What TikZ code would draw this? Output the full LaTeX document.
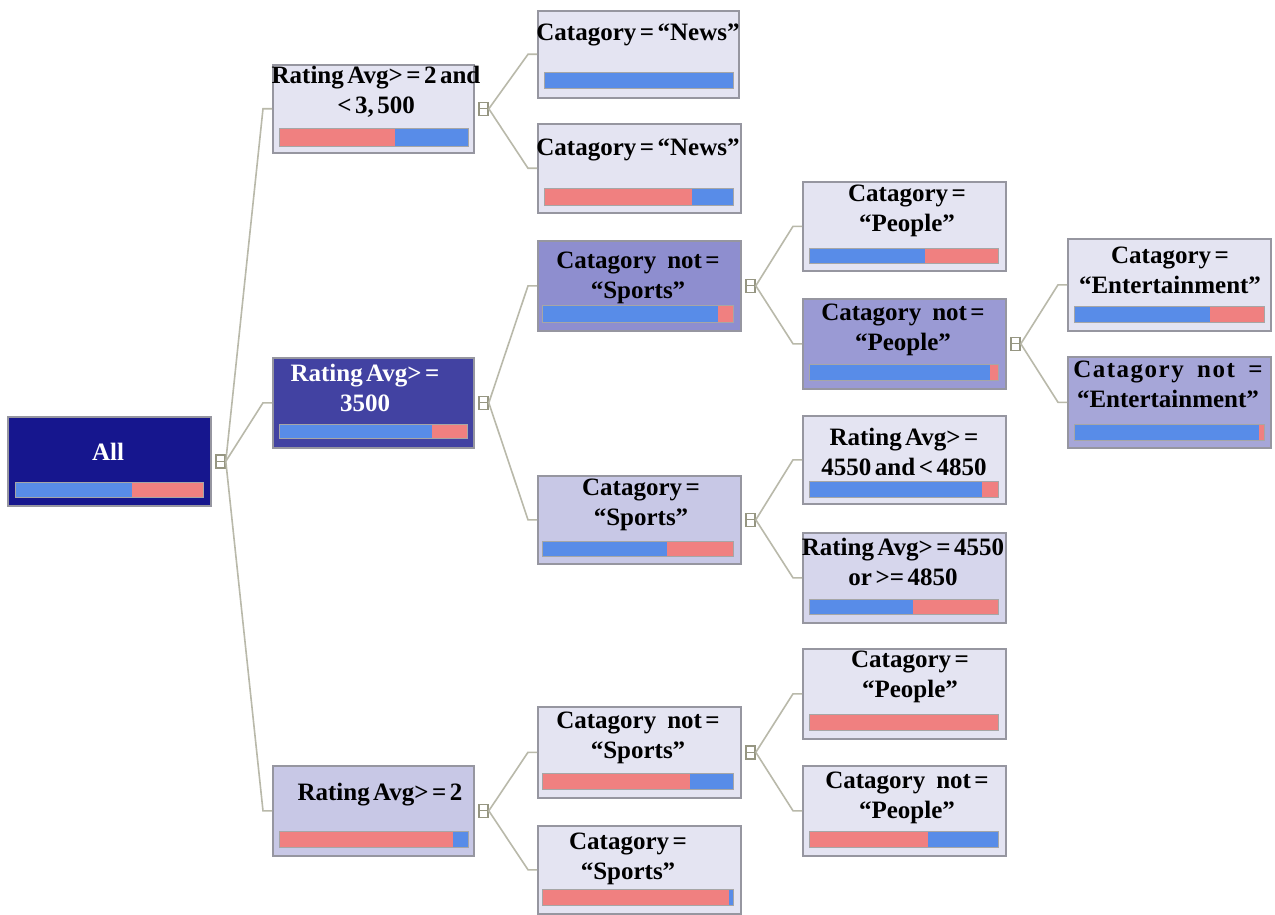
\documentclass[tikz,border=0pt]{standalone}
\usepackage{fontspec}
\setmainfont{Liberation Serif}
\definecolor{cRoot}{RGB}{22,22,142}
\definecolor{cDark}{RGB}{66,66,162}
\definecolor{cMid}{RGB}{142,142,207}
\definecolor{cMidB}{RGB}{154,154,212}
\definecolor{cMidC}{RGB}{166,166,216}
\definecolor{cSoft}{RGB}{200,200,230}
\definecolor{cSoftB}{RGB}{214,214,236}
\definecolor{cLight}{RGB}{228,228,242}
\definecolor{cBlue}{RGB}{88,140,232}
\definecolor{cRed}{RGB}{240,128,128}
\definecolor{cBorder}{RGB}{150,150,160}
\definecolor{cConn}{RGB}{185,185,170}
\definecolor{cJunc}{RGB}{150,150,130}
\newcommand\lblfont{\fontsize{25}{30}\selectfont\bfseries\spaceskip=0.14em plus 0.05em\relax}
\tikzset{
  box/.style={draw=cBorder,line width=1.6pt,inner sep=0pt,rectangle},
  lbl/.style={font=\lblfont,align=center,inner sep=0pt,text=black},
  wlbl/.style={lbl,text=white},
  barline/.style={draw=black!35,line width=0.8pt},
  junc/.style={draw=cJunc,line width=1.4pt,minimum width=9pt,minimum height=13pt,inner sep=0pt,rectangle,fill=white,
    path picture={\draw[cJunc,line width=1.2pt] (path picture bounding box.west) -- (path picture bounding box.east);}},
  conn/.style={draw=cConn,line width=1.6pt}
}
\newcommand\tnode[6]{%
  \node[box,#6,minimum width={(#4-#2)*1pt},minimum height={(#5-#3)*1pt},anchor=north west] (#1) at (#2,#3) {};}
\newcommand\tbar[7]{%
  \fill[#6] (#1,#2) rectangle (#5,#4);
  \fill[#7] (#5,#2) rectangle (#3,#4);
  \draw[barline] (#1,#2) rectangle (#3,#4);}
\newcommand\jn[2]{\node[junc] (j#1) at ([xshift=9pt]#1.east) {};}
\newcommand\cn[2]{\draw[conn] (j#1.east) -- ([xshift=-9pt]#2.west) -- (#2.west);}
\begin{document}
\begin{tikzpicture}[x=1pt,y=-1pt]
\useasboundingbox[fill=white] (0,0) rectangle (1275,915);
% boxes
\tnode{root}{7}{416}{210}{505}{fill=cRoot}
\tnode{r1}{272}{64}{473}{152}{fill=cLight}
\tnode{r2}{272}{357}{473}{447}{fill=cDark}
\tnode{r3}{272}{765}{473}{855}{fill=cSoft}
\tnode{n1}{537}{10}{738}{97}{fill=cLight}
\tnode{n2}{537}{123}{740}{212}{fill=cLight}
\tnode{s1}{537}{240}{740}{330}{fill=cMid}
\tnode{s2}{537}{475}{740}{563}{fill=cSoft}
\tnode{b1}{537}{706}{740}{797}{fill=cLight}
\tnode{b2}{537}{825}{740}{913}{fill=cLight}
\tnode{p1}{802}{181}{1005}{270}{fill=cLight}
\tnode{p2}{802}{298}{1005}{388}{fill=cMidB}
\tnode{a1}{802}{415}{1005}{503}{fill=cLight}
\tnode{a2}{802}{532}{1005}{622}{fill=cSoftB}
\tnode{q1}{802}{648}{1005}{738}{fill=cLight}
\tnode{q2}{802}{765}{1005}{855}{fill=cLight}
\tnode{e1}{1067}{238}{1270}{330}{fill=cLight}
\tnode{e2}{1067}{356}{1270}{447}{fill=cMidC}
% bars
\tbar{15}{482}{203}{497}{132}{cBlue}{cRed}
\tbar{279}{128}{468}{146}{395}{cRed}{cBlue}
\tbar{544}{72}{733}{88}{733}{cBlue}{cRed}
\tbar{544}{188}{733}{205}{692}{cRed}{cBlue}
\tbar{279}{424}{467}{438}{432}{cBlue}{cRed}
\tbar{542}{305}{733}{322}{718}{cBlue}{cRed}
\tbar{542}{541}{733}{556}{667}{cBlue}{cRed}
\tbar{809}{248}{998}{263}{925}{cBlue}{cRed}
\tbar{809}{364}{998}{380}{990}{cBlue}{cRed}
\tbar{1074}{306}{1264}{322}{1210}{cBlue}{cRed}
\tbar{1074}{424}{1264}{440}{1259}{cBlue}{cRed}
\tbar{809}{481}{998}{497}{982}{cBlue}{cRed}
\tbar{809}{599}{998}{614}{913}{cBlue}{cRed}
\tbar{279}{831}{468}{847}{453}{cRed}{cBlue}
\tbar{542}{773}{733}{789}{690}{cRed}{cBlue}
\tbar{542}{889}{733}{905}{729}{cRed}{cBlue}
\tbar{809}{714}{998}{730}{998}{cRed}{cBlue}
\tbar{809}{831}{998}{847}{928}{cRed}{cBlue}
% labels
\node[wlbl] (root-t) at (108,452) {All};
\node[lbl] (r1-t) at (376,92) {Rating Avg> = 2 and\\< 3, 500};
\node[wlbl] (r2-t) at (365,388) {Rating Avg> =\\3500};
\node[lbl] (r3-t) at (380,795) {Rating Avg> = 2};
\node[lbl] (n1-t) at (638,35) {Catagory = “News”};
\node[lbl] (n2-t) at (638,150) {Catagory = “News”};
\node[lbl] (s1-t) at (638,278) {Catagory\hspace{0.3em} not =\\“Sports”};
\node[lbl] (s2-t) at (641,505) {Catagory =\\“Sports”};
\node[lbl] (b1-t) at (638,738) {Catagory\hspace{0.3em} not =\\“Sports”};
\node[lbl] (b2-t) at (628,859) {Catagory =\\“Sports”};
\node[lbl] (p1-t) at (907,211) {Catagory =\\“People”};
\node[lbl] (p2-t) at (903,330) {Catagory\hspace{0.3em} not =\\“People”};
\node[lbl] (a1-t) at (904,452) {Rating Avg> =\\4550 and < 4850};
\node[lbl] (a2-t) at (903,562) {Rating Avg> = 4550\\or >= 4850};
\node[lbl] (q1-t) at (910,677) {Catagory =\\“People”};
\node[lbl] (q2-t) at (907,798) {Catagory\hspace{0.3em} not =\\“People”};
\node[lbl] (e1-t) at (1170,270) {Catagory =\\“Entertainment”};
\node[lbl] (e2-t) at (1168,384) {{\addfontfeature{LetterSpace=6}Catagory\hspace{0.4em} not\hspace{0.4em} =}\\“Entertainment”};
% junctions
\jn{root}{}
\jn{r1}{}
\jn{r2}{}
\jn{r3}{}
\jn{s1}{}
\jn{s2}{}
\jn{b1}{}
\jn{p2}{}
% connectors
\cn{root}{r1}
\cn{root}{r2}
\cn{root}{r3}
\cn{r1}{n1}
\cn{r1}{n2}
\cn{r2}{s1}
\cn{r2}{s2}
\cn{r3}{b1}
\cn{r3}{b2}
\cn{s1}{p1}
\cn{s1}{p2}
\cn{s2}{a1}
\cn{s2}{a2}
\cn{b1}{q1}
\cn{b1}{q2}
\cn{p2}{e1}
\cn{p2}{e2}
\end{tikzpicture}
\end{document}
